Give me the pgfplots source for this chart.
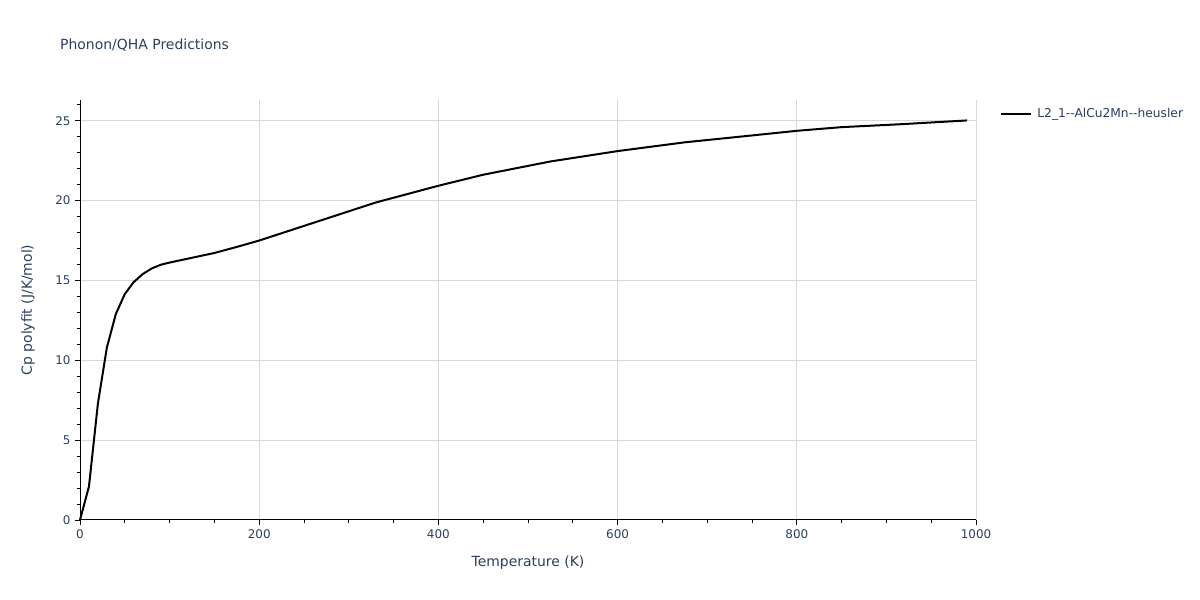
\documentclass[border=0pt]{standalone}
\usepackage{pgfplots}
\pgfplotsset{compat=1.18}
\usepackage{fontspec}
\setmainfont{DejaVu Sans}
\definecolor{txt}{HTML}{2A3F5F}
\definecolor{gridc}{HTML}{D8D8D8}
\begin{document}
\begin{tikzpicture}
\path[use as bounding box] (0,0) rectangle (1200bp,600bp);
\node[anchor=west, text=txt, font=\fontsize{14}{17}\selectfont, inner sep=0pt] at (60bp,555bp) {Phonon/QHA Predictions};
\begin{axis}[
  at={(80bp,80bp)}, anchor=south west,
  scale only axis, width=896bp, height=420bp,
  xmin=0, xmax=1000, ymin=0, ymax=26.3,
  axis x line*=bottom, axis y line*=left,
  axis line style={black, line width=1bp, -},
  xtick={0,200,...,1000}, ytick={0,5,...,25},
  minor xtick={50,100,...,950}, minor ytick={1,2,...,26},
  tick align=outside,
  major tick length=5bp, minor tick length=3.5bp,
  tick style={black, line width=0.8bp},
  grid=major,
  major grid style={draw=gridc, line width=1bp},
  ticklabel style={text=txt, font=\fontsize{12}{14}\selectfont},
  /pgf/number format/assume math mode=true,
  /pgf/number format/1000 sep={},
  xlabel={Temperature (K)}, ylabel={Cp polyfit (J/K/mol)},
  label style={text=txt, font=\fontsize{14}{17}\selectfont},
  xlabel style={at={(axis description cs:0.5,0)}, anchor=center, yshift=-43bp},
  ylabel style={at={(axis description cs:0,0.5)}, anchor=center, yshift=52bp},
  xticklabel style={yshift=-1bp},
  yticklabel style={xshift=-1bp},
  legend style={at={(1.027,0.967)}, anchor=west, draw=none, fill=none,
    font=\fontsize{12.3}{14}\selectfont, text=txt, inner sep=0pt},
  legend cell align=left,
  legend image code/.code={\draw[#1] (-2bp,0bp) -- (28bp,0bp);},
  clip=false,
]
\addplot[black, line width=2bp] coordinates {
(0,0) (10,2.1) (20,7.3) (30,10.8) (40,12.9) (50,14.15) (60,14.9) (70,15.4)
(80,15.75) (90,15.98) (100,16.12) (125,16.42) (150,16.72) (175,17.1)
(200,17.5) (330,19.88) (400,20.93) (450,21.62)
(525,22.45) (600,23.1) (675,23.65) (750,24.08) (800,24.37) (850,24.6)
(915,24.78) (990,25.02)
};
\addlegendentry{\hspace{3bp}L2\_1{-}{-}AlCu2Mn{-}{-}heusler}
\end{axis}
\end{tikzpicture}
\end{document}
